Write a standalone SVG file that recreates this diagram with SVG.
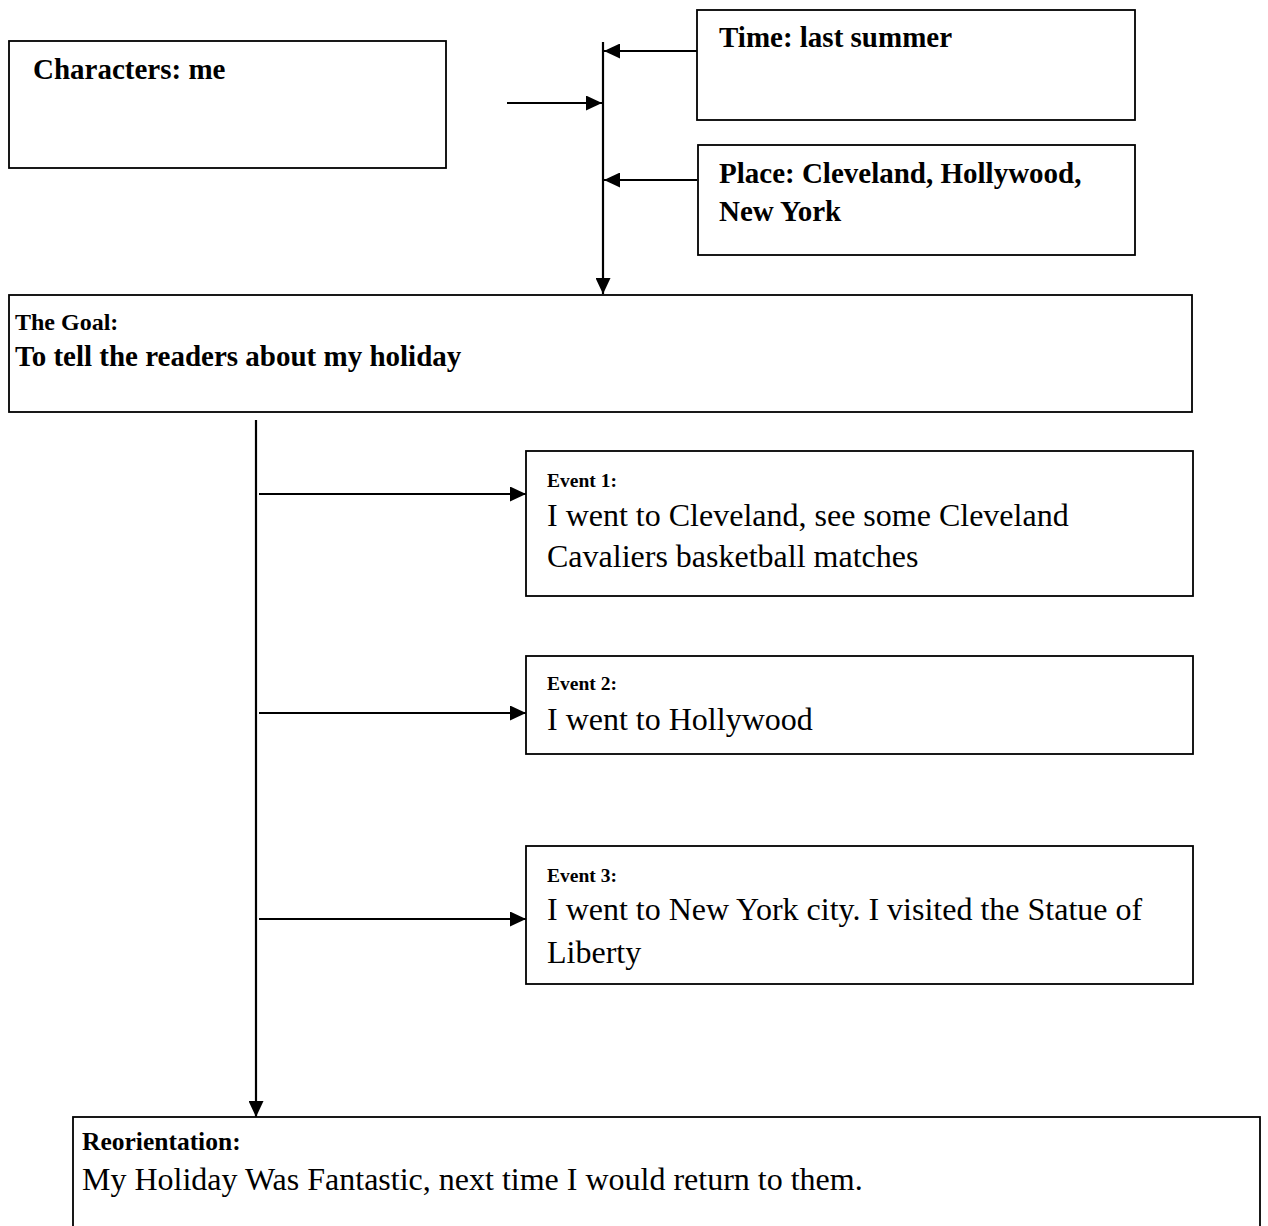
<svg xmlns="http://www.w3.org/2000/svg" width="1268" height="1226" viewBox="0 0 1268 1226">
  <style>
    .box { fill: #ffffff; stroke: #000000; stroke-width: 1.8; }
    .link { stroke: #000000; stroke-width: 2.2; fill: none; }
    .head { font-family: "Liberation Serif", "Times New Roman", serif; font-weight: bold; font-size: 29px; fill: #000000; }
    .label { font-family: "Liberation Serif", "Times New Roman", serif; font-weight: bold; font-size: 19.5px; fill: #000000; }
    .goal-label { font-family: "Liberation Serif", "Times New Roman", serif; font-weight: bold; font-size: 24px; fill: #000000; }
    .reo-label { font-family: "Liberation Serif", "Times New Roman", serif; font-weight: bold; font-size: 25.5px; fill: #000000; }
    .body { font-family: "Liberation Serif", "Times New Roman", serif; font-size: 32px; fill: #000000; }
  </style>
  <defs>
    <marker id="arrow" markerUnits="userSpaceOnUse" markerWidth="17" markerHeight="15" refX="16" refY="7.5" orient="auto">
      <path d="M0,0 L16,7.5 L0,15 z" fill="#000000"/>
    </marker>
  </defs>
  <rect width="1268" height="1226" fill="#ffffff"/>

  <!-- connectors -->
  <g id="connectors">
    <line class="link" x1="603" y1="42" x2="603" y2="294" marker-end="url(#arrow)"/>
    <line class="link" x1="507" y1="103" x2="602" y2="103" marker-end="url(#arrow)"/>
    <line class="link" x1="697" y1="51" x2="604" y2="51" marker-end="url(#arrow)"/>
    <line class="link" x1="697" y1="180" x2="604" y2="180" marker-end="url(#arrow)"/>
    <line class="link" x1="256" y1="420" x2="256" y2="1117" marker-end="url(#arrow)"/>
    <line class="link" x1="259" y1="494" x2="526" y2="494" marker-end="url(#arrow)"/>
    <line class="link" x1="259" y1="713" x2="526" y2="713" marker-end="url(#arrow)"/>
    <line class="link" x1="259" y1="919" x2="526" y2="919" marker-end="url(#arrow)"/>
  </g>

  <g id="characters">
    <rect class="box" x="9" y="41" width="437" height="127"/>
    <text class="head" x="33" y="79">Characters: me</text>
  </g>

  <g id="time">
    <rect class="box" x="697" y="10" width="438" height="110"/>
    <text class="head" x="719" y="47">Time: last summer</text>
  </g>

  <g id="place">
    <rect class="box" x="698" y="145" width="437" height="110"/>
    <text class="head" x="719" y="183">Place: Cleveland, Hollywood,</text>
    <text class="head" x="719" y="221">New York</text>
  </g>

  <g id="goal">
    <rect class="box" x="9" y="295" width="1183" height="117"/>
    <text class="goal-label" x="15" y="330">The Goal:</text>
    <text class="head" x="15" y="366">To tell the readers about my holiday</text>
  </g>

  <g id="event1">
    <rect class="box" x="526" y="451" width="667" height="145"/>
    <text class="label" x="547" y="487">Event 1:</text>
    <text class="body" x="547" y="526">I went to Cleveland, see some Cleveland</text>
    <text class="body" x="547" y="567">Cavaliers basketball matches</text>
  </g>

  <g id="event2">
    <rect class="box" x="526" y="656" width="667" height="98"/>
    <text class="label" x="547" y="690">Event 2:</text>
    <text class="body" x="547" y="730">I went to Hollywood</text>
  </g>

  <g id="event3">
    <rect class="box" x="526" y="846" width="667" height="138"/>
    <text class="label" x="547" y="882">Event 3:</text>
    <text class="body" x="547" y="920">I went to New York city. I visited the Statue of</text>
    <text class="body" x="547" y="963">Liberty</text>
  </g>

  <g id="reorientation">
    <rect class="box" x="73" y="1117" width="1187" height="140"/>
    <text class="reo-label" x="82" y="1150">Reorientation:</text>
    <text class="body" x="82" y="1190">My Holiday Was Fantastic, next time I would return to them.</text>
  </g>
</svg>
